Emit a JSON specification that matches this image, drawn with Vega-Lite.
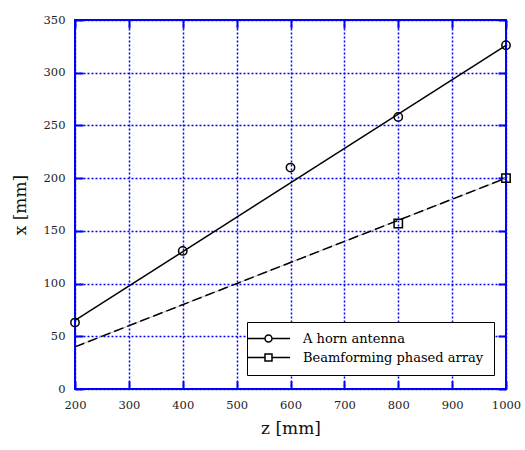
{
  "$schema": "https://vega.github.io/schema/vega-lite/v6.json",
  "autosize": "none",
  "width": 431,
  "height": 369,
  "padding": {"left": 75, "top": 20, "right": 19, "bottom": 61},
  "background": "white",
  "config": {
    "view": {"stroke": "#0000ff", "strokeWidth": 2},
    "font": "DejaVu Serif",
    "axis": {
      "labelFont": "DejaVu Serif",
      "labelFontSize": 11.5,
      "labelColor": "#222222",
      "titleFont": "DejaVu Serif",
      "titleFontSize": 17,
      "titleFontWeight": "normal",
      "titleColor": "#111111",
      "domain": false,
      "tickColor": "#0000ff",
      "tickWidth": 2,
      "gridColor": "#0000ff",
      "gridOpacity": 1,
      "gridWidth": 1.5,
      "gridDash": [2, 2]
    },
    "legend": {"labelFont": "DejaVu Serif"}
  },
  "datasets": {
    "hornfit": [{"z": 200, "x": 65}, {"z": 1000, "x": 326}],
    "beamfit": [{"z": 200, "x": 40}, {"z": 1000, "x": 200}],
    "pts": [
      {"z": 200, "x": 63, "series": "A horn antenna"},
      {"z": 400, "x": 131, "series": "A horn antenna"},
      {"z": 600, "x": 210, "series": "A horn antenna"},
      {"z": 800, "x": 258, "series": "A horn antenna"},
      {"z": 1000, "x": 326, "series": "A horn antenna"},
      {"z": 800, "x": 157, "series": "Beamforming phased array"},
      {"z": 1000, "x": 200, "series": "Beamforming phased array"}
    ]
  },
  "layer": [
    {
      "layer": [
        {
          "data": {"name": "hornfit"},
          "mark": {"type": "line", "color": "black", "strokeWidth": 1.5},
          "encoding": {
            "x": {
              "field": "z", "type": "quantitative",
              "scale": {"domain": [200, 1000], "nice": false},
              "axis": {
                "values": [200, 300, 400, 500, 600, 700, 800, 900, 1000],
                "format": "d",
                "title": "z [mm]",
                "tickSize": -8,
                "labelPadding": 18,
                "labelFlush": false,
                "labelOverlap": false,
                "titlePadding": 10
              }
            },
            "y": {
              "field": "x", "type": "quantitative",
              "scale": {"domain": [0, 350], "nice": false},
              "axis": {
                "values": [0, 50, 100, 150, 200, 250, 300, 350],
                "format": "d",
                "title": "x [mm]",
                "tickSize": -8,
                "labelPadding": 18,
                "labelFlush": false,
                "labelOverlap": false,
                "titlePadding": 14
              }
            }
          }
        },
        {
          "data": {"name": "beamfit"},
          "mark": {"type": "line", "color": "#bbbbbb", "strokeWidth": 1},
          "encoding": {
            "x": {"field": "z", "type": "quantitative"},
            "y": {"field": "x", "type": "quantitative"}
          }
        },
        {
          "data": {"name": "beamfit"},
          "mark": {"type": "line", "color": "black", "strokeWidth": 1.5, "strokeDash": [10, 4]},
          "encoding": {
            "x": {"field": "z", "type": "quantitative"},
            "y": {"field": "x", "type": "quantitative"}
          }
        },
        {
          "data": {"name": "pts"},
          "mark": {"type": "point", "filled": false, "color": "black", "strokeWidth": 1.5, "size": 70, "opacity": 1},
          "encoding": {
            "x": {"field": "z", "type": "quantitative"},
            "y": {"field": "x", "type": "quantitative"},
            "shape": {
              "field": "series", "type": "nominal",
              "scale": {"domain": ["A horn antenna", "Beamforming phased array"], "range": ["circle", "square"]},
              "legend": null
            }
          }
        },
        {
          "data": {"name": "pts"},
          "mark": {"type": "point", "filled": false, "color": "black", "strokeWidth": 1.5, "opacity": 0},
          "encoding": {
            "x": {"field": "z", "type": "quantitative"},
            "y": {"field": "x", "type": "quantitative"},
            "shape": {
              "field": "series", "type": "nominal",
              "scale": {
                "domain": ["A horn antenna", "Beamforming phased array"],
                "range": [
                  "M-3.3,0L0.3,0M1.7,0L5.3,0M0.3,0A0.7,0.7,0,1,1,1.7,0A0.7,0.7,0,1,1,0.3,0",
                  "M-3.3,0L0.3,0M1.7,0L5.3,0M0.3,-0.7L1.7,-0.7L1.7,0.7L0.3,0.7Z"
                ]
              },
              "legend": {
                "orient": "none",
                "legendX": 172,
                "legendY": 302,
                "title": null,
                "labelFont": "DejaVu Serif",
                "labelFontSize": 13,
                "labelColor": "black",
                "labelLimit": 400,
                "symbolSize": 100,
                "symbolOpacity": 1,
                "symbolStrokeColor": "black",
                "symbolStrokeWidth": 1.5,
                "symbolFillColor": "white",
                "labelOffset": 33,
                "rowPadding": 5,
                "padding": 10,
                "fillColor": "white",
                "strokeColor": "black",
                "encode": {
                  "legend": {"strokeWidth": {"value": 2.5}},
                  "symbols": {"opacity": {"value": 1}}
                }
              }
            }
          }
        }
      ],
      "resolve": {"scale": {"shape": "independent"}}
    },
    {
      "data": {"name": "hornfit"},
      "mark": {"type": "point", "opacity": 0},
      "encoding": {
        "x": {
          "field": "z", "type": "quantitative",
          "axis": {"values": [200, 300, 400, 500, 600, 700, 800, 900, 1000], "labels": false, "title": null, "grid": false, "tickSize": -8}
        },
        "y": {
          "field": "x", "type": "quantitative",
          "axis": {"values": [0, 50, 100, 150, 200, 250, 300, 350], "labels": false, "title": null, "grid": false, "tickSize": -8}
        }
      }
    }
  ],
  "resolve": {"axis": {"x": "independent", "y": "independent"}}
}
